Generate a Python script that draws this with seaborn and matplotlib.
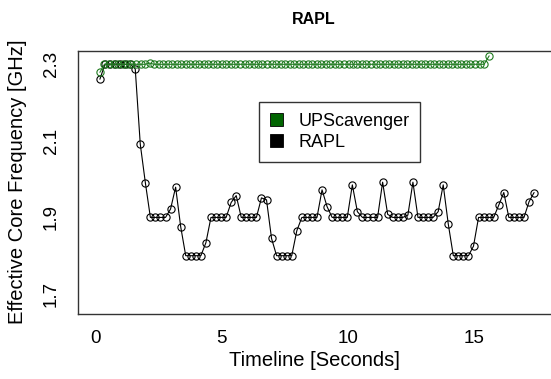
import matplotlib
matplotlib.use("Agg")
import matplotlib.pyplot as plt
from matplotlib.patches import Patch
import seaborn as sns
import pandas as pd

# ---- data ----
rapl_time = [0.17, 0.37, 0.57, 0.77, 0.97, 1.17, 1.37, 1.57, 1.77, 1.97,
             2.17, 2.37, 2.57, 2.77, 2.97, 3.17, 3.37, 3.57, 3.77, 3.97,
             4.17, 4.37, 4.57, 4.77, 4.97, 5.17, 5.37, 5.57, 5.77, 5.97,
             6.17, 6.37, 6.57, 6.77, 6.97, 7.17, 7.37, 7.57, 7.77, 7.97,
             8.17, 8.37, 8.57, 8.77, 8.97, 9.17, 9.37, 9.57, 9.77, 9.97,
             10.17, 10.37, 10.57, 10.77, 10.97, 11.17, 11.37, 11.57, 11.77, 11.97,
             12.17, 12.37, 12.57, 12.77, 12.97, 13.17, 13.37, 13.57, 13.77, 13.97,
             14.17, 14.37, 14.57, 14.77, 14.97, 15.17, 15.37, 15.57, 15.77, 15.97,
             16.17, 16.37, 16.57, 16.77, 16.97, 17.17, 17.37]
rapl_freq = [2.261, 2.30, 2.30, 2.30, 2.30, 2.30, 2.30, 2.288, 2.091, 1.991,
             1.90, 1.90, 1.90, 1.90, 1.922, 1.979, 1.876, 1.80, 1.80, 1.80,
             1.80, 1.834, 1.90, 1.90, 1.90, 1.90, 1.939, 1.957, 1.90, 1.90,
             1.90, 1.90, 1.951, 1.946, 1.845, 1.80, 1.80, 1.80, 1.80, 1.865,
             1.90, 1.90, 1.90, 1.90, 1.972, 1.928, 1.90, 1.90, 1.90, 1.90,
             1.985, 1.915, 1.90, 1.90, 1.90, 1.90, 1.992, 1.908, 1.90, 1.90,
             1.90, 1.906, 1.992, 1.90, 1.90, 1.90, 1.90, 1.915, 1.985, 1.883,
             1.80, 1.80, 1.80, 1.80, 1.825, 1.90, 1.90, 1.90, 1.90, 1.932,
             1.965, 1.90, 1.90, 1.90, 1.90, 1.941, 1.965]

ups_time = [0.17, 0.35, 0.53, 0.71, 0.89, 1.07, 1.24, 1.42, 1.60, 1.78,
            1.96, 2.14, 2.32, 2.50, 2.68, 2.86, 3.03, 3.21, 3.39, 3.57,
            3.75, 3.93, 4.11, 4.29, 4.47, 4.65, 4.82, 5.00, 5.18, 5.36,
            5.54, 5.72, 5.90, 6.08, 6.26, 6.44, 6.61, 6.79, 6.97, 7.15,
            7.33, 7.51, 7.69, 7.87, 8.05, 8.23, 8.40, 8.58, 8.76, 8.94,
            9.12, 9.30, 9.48, 9.66, 9.84, 10.02, 10.19, 10.37, 10.55, 10.73,
            10.91, 11.09, 11.27, 11.45, 11.63, 11.81, 11.98, 12.16, 12.34, 12.52,
            12.70, 12.88, 13.06, 13.24, 13.42, 13.60, 13.77, 13.95, 14.13, 14.31,
            14.49, 14.67, 14.85, 15.03, 15.21, 15.39, 15.59]
ups_freq = [2.279, 2.30, 2.30, 2.30, 2.30, 2.30, 2.30, 2.30, 2.30, 2.30,
            2.30, 2.303, 2.30, 2.30, 2.30, 2.30, 2.30, 2.30, 2.30, 2.30,
            2.30, 2.30, 2.30, 2.30, 2.30, 2.30, 2.30, 2.30, 2.30, 2.30,
            2.30, 2.30, 2.30, 2.30, 2.30, 2.30, 2.30, 2.30, 2.30, 2.30,
            2.30, 2.30, 2.30, 2.30, 2.30, 2.30, 2.30, 2.30, 2.30, 2.30,
            2.30, 2.30, 2.30, 2.30, 2.30, 2.30, 2.30, 2.30, 2.30, 2.30,
            2.30, 2.30, 2.30, 2.30, 2.30, 2.30, 2.30, 2.30, 2.30, 2.30,
            2.30, 2.30, 2.30, 2.30, 2.30, 2.30, 2.30, 2.30, 2.30, 2.30,
            2.30, 2.30, 2.30, 2.30, 2.30, 2.30, 2.322]

series_names = ["UPScavenger", "RAPL"]
series_colors = ["#006400", "black"]
x_ticks = [0, 5, 10, 15]
y_ticks = [1.7, 1.8, 1.9, 2.0, 2.1, 2.2, 2.3]
y_ticklabels = ["1.7", "", "1.9", "", "2.1", "", "2.3"]

# ---- figure ----
sns.set_style("white")
plt.rcParams["font.family"] = ["Liberation Sans", "DejaVu Sans"]
plt.rcParams["text.color"] = "black"
plt.rcParams["axes.labelcolor"] = "black"
plt.rcParams["xtick.color"] = "black"
plt.rcParams["ytick.color"] = "black"

fig = plt.figure(figsize=(5.51, 3.79), dpi=100)
ax = fig.add_axes([77.5 / 551, 1 - 313.5 / 379, 1 - 77.5 / 551, (313.5 - 51) / 379])

rapl_df = pd.DataFrame({"t": rapl_time, "f": rapl_freq})
ups_df = pd.DataFrame({"t": ups_time, "f": ups_freq})

sns.lineplot(data=rapl_df, x="t", y="f", ax=ax, color="black", lw=0.8,
             marker="o", markersize=5.2, markerfacecolor="none",
             markeredgecolor="black", markeredgewidth=0.8, zorder=2)
sns.lineplot(data=ups_df, x="t", y="f", ax=ax, color="#1f7a1f", lw=0.8,
             marker="o", markersize=5.2, markerfacecolor="none",
             markeredgecolor="#1f7a1f", markeredgewidth=0.8, zorder=3)

ax.set_xlim(-0.717, 18.04)
ax.set_ylim(1.649, 2.3347)
ax.set_xticks(x_ticks)
ax.set_xticklabels([str(v) for v in x_ticks])
ax.set_yticks(y_ticks)
ax.set_yticklabels(y_ticklabels, rotation=90, va="center")
ax.tick_params(axis="both", direction="out", length=5.6, width=0.8,
               color="black", labelcolor="black", labelsize=13.5, pad=7)
ax.tick_params(axis="x", pad=6)

for side in ["left", "bottom", "top"]:
    ax.spines[side].set_visible(True)
    ax.spines[side].set_color("#333333")
    ax.spines[side].set_linewidth(1.0)
ax.spines["right"].set_visible(False)

ax.set_xlabel("")
ax.set_ylabel("")
fig.text(314 / 551, 1 - 360 / 379, "Timeline [Seconds]", ha="center",
         va="center", fontsize=14.5, color="black")
fig.text(18 / 551, 1 - 182 / 379, "Effective Core Frequency [GHz]",
         ha="center", va="center", rotation=90, fontsize=14.5, color="black")
fig.text(314 / 551, 1 - 20 / 379, "RAPL", ha="center", va="center",
         fontsize=11.5, fontweight="bold", color="black")

handles = [Patch(facecolor=c, edgecolor="black", linewidth=0.6) for c in series_colors]
leg = ax.legend(handles, series_names, loc="upper left",
                bbox_to_anchor=((259.3 - 77.5) / 473.5, (313.5 - 102.3) / 262.5),
                borderaxespad=0, fontsize=13, frameon=True, fancybox=False,
                framealpha=1, edgecolor="#333333", borderpad=0.6,
                handlelength=0.72, handleheight=0.72, handletextpad=0.85,
                labelspacing=0.2)
leg.get_frame().set_linewidth(1.0)
for txt in leg.get_texts():
    txt.set_color("black")

fig.savefig("out.png", dpi=100)
